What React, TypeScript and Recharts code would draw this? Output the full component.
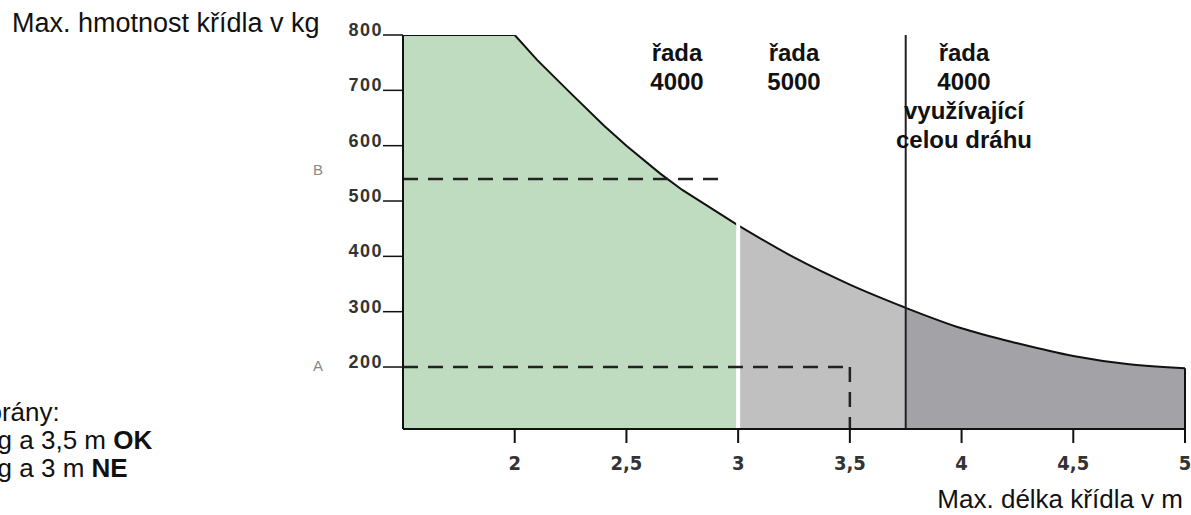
import React from "react";
import {
  ComposedChart,
  Area,
  XAxis,
  YAxis,
  ReferenceLine,
} from "recharts";

// wing length (m) and max wing weight (kg)
const lengths = [1.5, 2, 2.1, 2.25, 2.4, 2.5, 2.65, 2.75, 3, 3.25, 3.5, 3.75, 4, 4.25, 4.5, 4.75, 5];
const weights = [800, 800, 755, 695, 636, 600, 550, 520, 456, 398, 349, 307, 270, 243, 220, 205, 198];

const xTicks = [2, 2.5, 3, 3.5, 4, 4.5, 5];
const yTicks = [200, 300, 400, 500, 600, 700, 800];

// zone boundaries (m)
const zoneSplits = [3, 3.75];

// examples A and B
const exampleA = { length: 3.5, weight: 200 };
const exampleB = { length: 2.95, weight: 540 };

const Y_MIN = 88;

const data = lengths.map((x, i) => ({
  x,
  green: x <= zoneSplits[0] ? weights[i] : null,
  light: x >= zoneSplits[0] && x <= zoneSplits[1] ? weights[i] : null,
  dark: x >= zoneSplits[1] ? weights[i] : null,
}));

const weightAt = (x: number) => weights[lengths.indexOf(x)];

const YTick = ({ x, y, payload }: any) => (
  <text
    x={x}
    y={y + 1}
    textAnchor="end"
    fontFamily="Liberation Sans, Arial, sans-serif"
    fontWeight="bold"
    fontSize={18}
    letterSpacing={1.5}
    fill="#333"
  >
    {payload.value}
  </text>
);

const XTick = ({ x, y, payload }: any) => (
  <text
    x={x}
    y={y + 25}
    textAnchor="middle"
    fontFamily="Liberation Sans Narrow, DejaVu Sans Condensed, sans-serif"
    fontWeight="bold"
    fontSize={20}
    fill="#333"
  >
    {String(payload.value).replace(".", ",")}
  </text>
);

const txt: React.CSSProperties = {
  position: "absolute",
  fontFamily: "Liberation Sans, Arial, sans-serif",
  color: "#111",
  whiteSpace: "nowrap",
};

const zoneLabel: React.CSSProperties = {
  ...txt,
  fontWeight: "bold",
  fontSize: 24,
  lineHeight: "29px",
  textAlign: "center",
  top: 38,
  transform: "translateX(-50%)",
};

export default function App() {
  return (
    <div style={{ position: "absolute", left: 0, top: 0, width: 1191, height: 515, background: "#fff", overflow: "hidden" }}>
      <ComposedChart
        width={1191}
        height={515}
        data={data}
        margin={{ top: 35, right: 6, bottom: 26, left: 0 }}
      >
        <XAxis
          dataKey="x"
          type="number"
          domain={[1.5, 5]}
          ticks={xTicks}
          height={60}
          axisLine={{ stroke: "#111", strokeWidth: 2 }}
          tickLine={{ stroke: "#111", strokeWidth: 2 }}
          tickSize={14}
          tick={<XTick />}
          allowDataOverflow
        />
        <YAxis
          type="number"
          domain={[Y_MIN, 800]}
          ticks={yTicks}
          width={403}
          axisLine={{ stroke: "#111", strokeWidth: 2 }}
          tickLine={{ stroke: "#111", strokeWidth: 1.5 }}
          tickSize={20}
          tickMargin={0}
          tick={<YTick />}
          allowDataOverflow
        />
        <Area
          type="linear"
          dataKey="green"
          stroke="#111"
          strokeWidth={2}
          fill="#bfdcc0"
          fillOpacity={1}
          isAnimationActive={false}
          connectNulls={false}
        />
        <Area
          type="monotone"
          dataKey="light"
          stroke="#111"
          strokeWidth={2}
          fill="#c0c0c0"
          fillOpacity={1}
          isAnimationActive={false}
          connectNulls={false}
        />
        <Area
          type="monotone"
          dataKey="dark"
          stroke="#111"
          strokeWidth={2}
          fill="#a3a2a6"
          fillOpacity={1}
          isAnimationActive={false}
          connectNulls={false}
        />
        <ReferenceLine
          segment={[
            { x: zoneSplits[0], y: Y_MIN },
            { x: zoneSplits[0], y: 800 },
          ]}
          stroke="#fff"
          strokeWidth={4}
        />
        <ReferenceLine x={zoneSplits[1]} stroke="#222" strokeWidth={2} />
        <ReferenceLine
          segment={[
            { x: 5, y: Y_MIN },
            { x: 5, y: weightAt(5) },
          ]}
          stroke="#111"
          strokeWidth={2}
        />
        <ReferenceLine
          segment={[
            { x: 1.5, y: exampleB.weight },
            { x: exampleB.length, y: exampleB.weight },
          ]}
          stroke="#222"
          strokeWidth={2.5}
          strokeDasharray="15 10"
        />
        <ReferenceLine
          segment={[
            { x: 1.5, y: exampleA.weight },
            { x: exampleA.length, y: exampleA.weight },
          ]}
          stroke="#222"
          strokeWidth={2.5}
          strokeDasharray="15 10"
        />
        <ReferenceLine
          segment={[
            { x: exampleA.length, y: exampleA.weight },
            { x: exampleA.length, y: Y_MIN },
          ]}
          stroke="#222"
          strokeWidth={2.5}
          strokeDasharray="15 10"
        />
      </ComposedChart>

      <div style={{ ...txt, left: 12, top: 8, fontSize: 27 }}>Max. hmotnost křídla v kg</div>
      <div style={{ ...txt, right: 8, top: 484, fontSize: 26 }}>Max. délka křídla v m</div>

      <div style={{ ...txt, left: 313, top: 161, fontSize: 15, color: "#888" }}>B</div>
      <div style={{ ...txt, left: 313, top: 357, fontSize: 15, color: "#888" }}>A</div>

      <div style={{ ...txt, left: -66, top: 398, fontSize: 26, lineHeight: "28px" }}>
        Dvě brány:
        <br />
        200 kg a 3,5 m <b>OK</b>
        <br />
        540 kg a 3 m <b>NE</b>
      </div>

      <div style={{ ...zoneLabel, left: 677 }}>
        řada
        <br />
        4000
      </div>
      <div style={{ ...zoneLabel, left: 794 }}>
        řada
        <br />
        5000
      </div>
      <div style={{ ...zoneLabel, left: 964 }}>
        řada
        <br />
        4000
        <br />
        využívající
        <br />
        celou dráhu
      </div>
    </div>
  );
}
